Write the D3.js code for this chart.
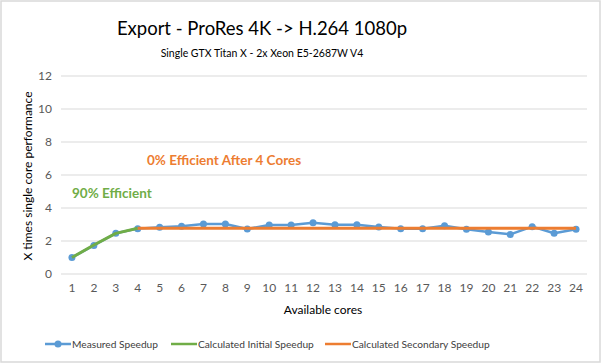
<!DOCTYPE html>
<html><head><meta charset="utf-8">
<script src="https://cdn.jsdelivr.net/npm/d3@7"></script>
<style>body{margin:0;background:#fff}svg{display:block}text{font-family:Lato,"Open Sans",sans-serif}</style>
</head><body><svg id="c" width="602" height="364"></svg>
<script>
const cores = ["1","2","3","4","5","6","7","8","9","10","11","12","13","14","15","16","17","18","19","20","21","22","23","24"];
const measured = [1.0,1.73,2.47,2.75,2.83,2.9,3.03,3.03,2.73,2.97,2.97,3.11,2.99,2.99,2.85,2.75,2.75,2.93,2.71,2.55,2.4,2.87,2.47,2.71];
const initialCores = ["1","2","3","4"];
const initialSpeedup = [1.0,1.76,2.46,2.77];
const secondaryCores = ["4","5","6","7","8","9","10","11","12","13","14","15","16","17","18","19","20","21","22","23","24"];
const secondarySpeedup = secondaryCores.map(() => 2.77);
const yTicks = [0,2,4,6,8,10,12];
const seriesNames = ["Measured Speedup","Calculated Initial Speedup","Calculated Secondary Speedup"];
const colors = ["#5b9bd5","#70ad47","#ed7d31"];

const svg = d3.select("#c");
svg.append("rect").attr("x",1).attr("y",1).attr("width",599).attr("height",361)
  .attr("fill","#fff").attr("stroke","#d9d9d9").attr("stroke-width",1.5);

const x = d3.scaleBand().domain(cores).range([61,587]);
const y = d3.scaleLinear().domain([0,12]).range([274,76]);
const cx = d => x(d) + x.bandwidth()/2;

// gridlines
svg.append("g").selectAll("line").data(yTicks).join("line")
  .attr("x1",61).attr("x2",587).attr("y1",d=>y(d)).attr("y2",d=>y(d))
  .attr("stroke","#d9d9d9").attr("stroke-width",1);

// y axis labels
const ya = svg.append("g").attr("transform","translate(52,0)")
  .call(d3.axisLeft(y).tickValues(yTicks).tickSize(0).tickPadding(0));
ya.select(".domain").remove();
ya.selectAll("text").attr("font-size",12).attr("fill","#595959").attr("font-family","Lato");

// x axis labels
const xa = svg.append("g").attr("transform","translate(0,283)")
  .call(d3.axisBottom(x).tickSize(0).tickPadding(0));
xa.select(".domain").remove();
xa.selectAll("text").attr("font-size",12).attr("fill","#595959").attr("font-family","Lato").attr("dy","0.71em");

// lines
const line = d3.line().x(d=>cx(d[0])).y(d=>y(d[1]));
svg.append("path").datum(cores.map((c,i)=>[c,measured[i]]))
  .attr("d",line).attr("fill","none").attr("stroke",colors[0]).attr("stroke-width",2.5).attr("stroke-linejoin","round");
svg.append("g").selectAll("circle").data(cores.map((c,i)=>[c,measured[i]])).join("circle")
  .attr("cx",d=>cx(d[0])).attr("cy",d=>y(d[1])).attr("r",3.5).attr("fill",colors[0]);
svg.append("path").datum(initialCores.map((c,i)=>[c,initialSpeedup[i]]))
  .attr("d",line).attr("fill","none").attr("stroke",colors[1]).attr("stroke-width",3).attr("stroke-linejoin","round");
svg.append("path").datum(secondaryCores.map((c,i)=>[c,secondarySpeedup[i]]))
  .attr("d",line).attr("fill","none").attr("stroke",colors[2]).attr("stroke-width",3).attr("stroke-linejoin","round");

// titles
svg.append("text").attr("x",262).attr("y",35).attr("text-anchor","middle")
  .attr("font-size",18.5).attr("fill","#000").text("Export - ProRes 4K -> H.264 1080p");
svg.append("text").attr("x",262).attr("y",57).attr("text-anchor","middle")
  .attr("font-size",10.5).attr("fill","#000").text("Single GTX Titan X - 2x Xeon E5-2687W  V4");

// axis titles
svg.append("text").attr("x",323).attr("y",314).attr("text-anchor","middle")
  .attr("font-size",12).attr("fill","#000").text("Available cores");
svg.append("text").attr("transform","translate(32,176) rotate(-90)").attr("text-anchor","middle")
  .attr("font-size",12).attr("fill","#000").text("X times single core performance");

// annotations
svg.append("text").attr("x",147).attr("y",165).attr("font-size",13.5).attr("font-weight","bold")
  .attr("fill",colors[2]).text("0% Efficient After 4 Cores");
svg.append("text").attr("x",72).attr("y",198).attr("font-size",13.5).attr("font-weight","bold")
  .attr("fill",colors[1]).text("90% Efficient");

// legend
const legX = [45,171,325];
const lg = svg.append("g").selectAll("g").data(seriesNames).join("g")
  .attr("transform",(d,i)=>`translate(${legX[i]},344)`);
lg.append("line").attr("x1",0).attr("x2",26).attr("stroke",(d,i)=>colors[i]).attr("stroke-width",2.5);
lg.filter((d,i)=>i===0).append("circle").attr("cx",13).attr("r",3.5).attr("fill",colors[0]);
lg.append("text").attr("x",27).attr("dy","0.35em").attr("font-size",10.2).attr("fill","#404040").text(d=>d);
</script></body></html>
